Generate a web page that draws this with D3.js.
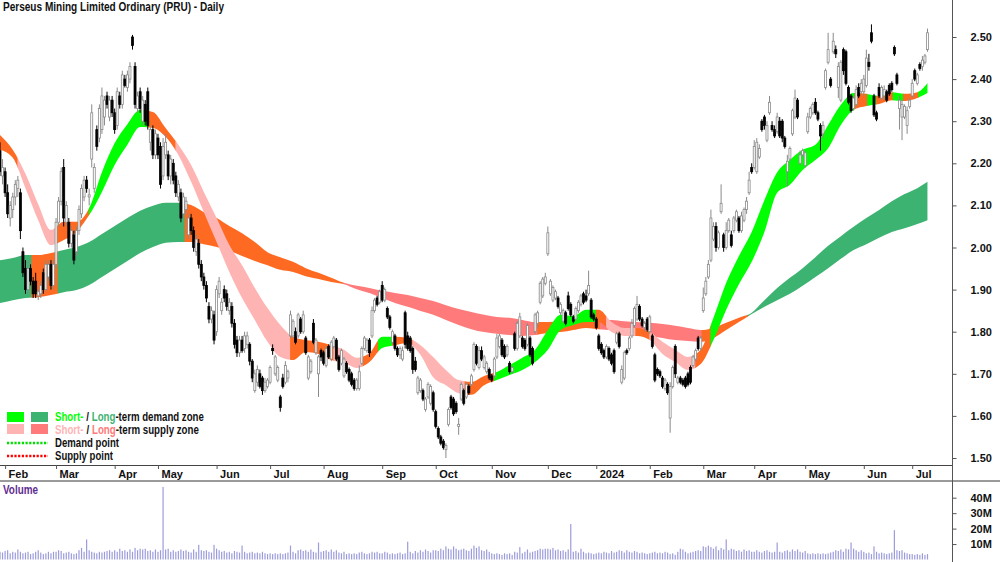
<!DOCTYPE html>
<html>
<head>
<meta charset="utf-8">
<script src="https://cdn.jsdelivr.net/npm/d3@7"></script>
<style>
  html, body { margin: 0; padding: 0; background: #fff; }
  svg { display: block; font-family: "Liberation Sans", Arial, sans-serif; }
</style>
</head>
<body>
<svg id="chart" width="1000" height="562"></svg>
<script>
// ASX trading calendar shown on the chart
const firstDay = "2023-01-30";
const lastDay = "2024-07-09";
const holidays = ["2023-04-07", "2023-04-10", "2023-04-25", "2023-06-12", "2023-12-25", "2023-12-26",
  "2024-01-01", "2024-01-26", "2024-03-29", "2024-04-01", "2024-04-25", "2024-06-10"];

const priceTicks = [1.5, 1.6, 1.7, 1.8, 1.9, 2.0, 2.1, 2.2, 2.3, 2.4, 2.5];
const volumeTicks = [10, 20, 30, 40];

// daily candles: [open, high, low, close]
const ohlc = [
  // Jan 30 - Feb 2023
  [2.23,2.25,2.17,2.18],[2.17,2.21,2.15,2.19],[2.18,2.19,2.12,2.13],[2.13,2.15,2.07,2.08],[2.07,2.11,2.05,2.10],
  [2.09,2.13,2.07,2.12],[2.12,2.16,2.10,2.15],[2.14,2.17,2.12,2.16],[2.13,2.14,2.02,2.04],[1.99,2.00,1.93,1.94],
  [1.95,1.97,1.89,1.90],[1.90,1.97,1.89,1.95],[1.95,1.96,1.91,1.92],[1.92,1.93,1.88,1.89],[1.92,1.94,1.88,1.89],
  [1.885,1.90,1.875,1.895],[1.89,1.92,1.88,1.91],[1.94,1.95,1.89,1.90],[1.90,1.97,1.895,1.96],[1.93,1.97,1.92,1.96],
  [1.96,1.97,1.90,1.91],[1.91,1.97,1.90,1.96],
  // Mar 2023
  [1.96,2.07,1.95,2.06],[2.06,2.12,2.05,2.11],[2.11,2.19,2.10,2.18],[2.19,2.21,2.05,2.07],[2.06,2.11,2.05,2.10],
  [2.06,2.07,2.00,2.01],[2.01,2.05,2.00,2.04],[2.03,2.04,1.96,1.97],[1.99,2.05,1.98,2.04],[2.04,2.10,2.03,2.09],
  [2.08,2.15,2.07,2.14],[2.12,2.17,2.11,2.16],[2.16,2.17,2.13,2.14],[2.12,2.14,2.10,2.125],[2.21,2.34,2.19,2.32],
  [2.14,2.20,2.13,2.19],[2.28,2.29,2.23,2.24],[2.26,2.34,2.25,2.33],[2.28,2.38,2.27,2.36],[2.31,2.36,2.29,2.35],
  [2.36,2.37,2.33,2.34],[2.31,2.36,2.30,2.35],[2.35,2.36,2.31,2.32],
  // Apr 2023
  [2.32,2.33,2.27,2.28],[2.29,2.38,2.28,2.37],[2.36,2.37,2.33,2.34],[2.34,2.42,2.33,2.41],[2.40,2.41,2.38,2.385],
  [2.38,2.42,2.37,2.41],[2.40,2.44,2.39,2.43],[2.50,2.505,2.47,2.48],[2.43,2.44,2.33,2.34],[2.33,2.37,2.32,2.36],
  [2.37,2.38,2.32,2.33],[2.30,2.36,2.29,2.35],[2.34,2.35,2.29,2.30],[2.37,2.38,2.28,2.29],[2.25,2.29,2.23,2.28],
  [2.28,2.29,2.21,2.22],[2.22,2.28,2.21,2.27],
  // May 2023
  [2.26,2.27,2.21,2.22],[2.24,2.25,2.14,2.15],[2.17,2.26,2.16,2.24],[2.22,2.27,2.21,2.25],[2.22,2.23,2.16,2.17],
  [2.17,2.22,2.15,2.21],[2.20,2.21,2.15,2.16],[2.17,2.18,2.12,2.13],[2.12,2.16,2.11,2.15],[2.13,2.14,2.06,2.07],
  [2.08,2.13,2.07,2.12],[2.09,2.12,2.08,2.11],[2.03,2.08,2.02,2.07],[2.07,2.08,2.03,2.04],[2.04,2.05,1.99,2.00],
  [1.99,2.03,1.98,2.02],[2.01,2.02,1.95,1.96],[1.96,1.97,1.92,1.93],[1.93,1.94,1.90,1.91],[1.91,1.92,1.87,1.88],
  [1.86,1.87,1.82,1.83],[1.83,1.86,1.82,1.85],[1.84,1.85,1.77,1.78],
  // Jun 2023
  [1.80,1.91,1.79,1.90],[1.89,1.93,1.88,1.92],[1.85,1.88,1.84,1.87],[1.90,1.91,1.87,1.88],[1.89,1.90,1.85,1.86],
  [1.85,1.88,1.84,1.87],[1.86,1.87,1.81,1.82],[1.82,1.83,1.76,1.77],[1.78,1.79,1.74,1.75],[1.75,1.79,1.74,1.78],
  [1.78,1.79,1.75,1.755],[1.76,1.80,1.75,1.79],[1.77,1.80,1.76,1.79],[1.77,1.775,1.72,1.73],[1.73,1.735,1.68,1.69],
  [1.66,1.71,1.655,1.70],[1.68,1.72,1.67,1.71],[1.70,1.71,1.665,1.67],[1.69,1.695,1.65,1.66],[1.66,1.69,1.655,1.68],
  [1.67,1.69,1.665,1.685],
  // Jul 2023
  [1.68,1.72,1.675,1.715],[1.76,1.77,1.745,1.755],[1.70,1.745,1.695,1.74],[1.685,1.72,1.68,1.715],[1.645,1.65,1.61,1.62],
  [1.69,1.70,1.665,1.67],[1.68,1.73,1.675,1.72],[1.69,1.71,1.68,1.705],[1.79,1.85,1.785,1.84],[1.79,1.83,1.785,1.825],
  [1.80,1.81,1.77,1.775],[1.79,1.845,1.785,1.84],[1.83,1.835,1.795,1.80],[1.80,1.85,1.795,1.84],[1.785,1.79,1.745,1.75],
  [1.69,1.745,1.685,1.74],[1.705,1.735,1.70,1.73],[1.82,1.83,1.77,1.775],[1.75,1.785,1.745,1.78],[1.70,1.745,1.645,1.74],
  [1.755,1.76,1.73,1.74],
  // Aug 2023
  [1.75,1.755,1.72,1.725],[1.72,1.765,1.715,1.76],[1.765,1.77,1.735,1.74],[1.735,1.78,1.73,1.775],[1.765,1.79,1.76,1.785],
  [1.78,1.785,1.73,1.735],[1.74,1.745,1.705,1.71],[1.725,1.76,1.72,1.755],[1.695,1.74,1.69,1.735],[1.725,1.73,1.70,1.705],
  [1.71,1.715,1.68,1.685],[1.70,1.705,1.67,1.675],[1.685,1.69,1.66,1.665],[1.665,1.69,1.66,1.685],[1.665,1.72,1.66,1.705],
  [1.725,1.765,1.72,1.76],[1.76,1.79,1.755,1.785],[1.755,1.785,1.75,1.78],[1.78,1.785,1.74,1.75],[1.79,1.86,1.785,1.85],
  [1.85,1.88,1.845,1.875],[1.88,1.885,1.86,1.865],[1.87,1.90,1.865,1.895],
  // Sep 2023
  [1.91,1.92,1.87,1.875],[1.875,1.905,1.87,1.90],[1.855,1.86,1.83,1.835],[1.835,1.84,1.805,1.81],[1.775,1.805,1.77,1.80],
  [1.79,1.795,1.755,1.76],[1.76,1.765,1.74,1.745],[1.745,1.765,1.735,1.76],[1.735,1.765,1.73,1.755],[1.845,1.85,1.76,1.77],
  [1.79,1.80,1.755,1.76],[1.785,1.79,1.75,1.755],[1.76,1.765,1.70,1.71],[1.73,1.74,1.705,1.71],[1.655,1.695,1.65,1.69],
  [1.66,1.69,1.655,1.685],[1.66,1.665,1.635,1.64],[1.615,1.645,1.61,1.64],[1.645,1.68,1.64,1.675],[1.63,1.675,1.625,1.67],
  [1.655,1.66,1.61,1.615],
  // Oct 2023
  [1.61,1.615,1.57,1.575],[1.57,1.575,1.545,1.55],[1.55,1.555,1.53,1.535],[1.54,1.545,1.52,1.525],[1.52,1.535,1.50,1.53],
  [1.58,1.62,1.575,1.615],[1.645,1.65,1.615,1.62],[1.64,1.645,1.60,1.605],[1.63,1.635,1.605,1.61],[1.575,1.595,1.555,1.58],
  [1.64,1.68,1.635,1.675],[1.66,1.665,1.625,1.63],[1.645,1.68,1.64,1.675],[1.67,1.675,1.65,1.655],[1.675,1.70,1.67,1.695],
  [1.71,1.775,1.705,1.77],[1.765,1.77,1.72,1.725],[1.715,1.765,1.71,1.755],[1.755,1.765,1.73,1.735],[1.715,1.745,1.71,1.74],
  [1.705,1.73,1.70,1.725],[1.71,1.715,1.685,1.69],
  // Nov 2023
  [1.695,1.70,1.68,1.685],[1.695,1.74,1.69,1.735],[1.74,1.795,1.735,1.785],[1.765,1.795,1.76,1.79],[1.78,1.785,1.74,1.745],
  [1.765,1.77,1.735,1.74],[1.745,1.77,1.74,1.765],[1.725,1.73,1.70,1.705],[1.705,1.72,1.70,1.715],[1.795,1.80,1.755,1.76],
  [1.76,1.825,1.755,1.82],[1.79,1.845,1.785,1.835],[1.785,1.79,1.76,1.765],[1.78,1.785,1.755,1.76],[1.77,1.82,1.765,1.815],
  [1.785,1.79,1.74,1.745],[1.76,1.765,1.72,1.725],[1.80,1.845,1.795,1.84],[1.82,1.85,1.81,1.845],[1.87,1.92,1.865,1.915],
  [1.885,1.93,1.88,1.925],[1.915,1.94,1.91,1.93],
  // Dec 2023
  [1.985,2.05,1.98,2.035],[1.89,1.925,1.885,1.92],[1.875,1.91,1.87,1.905],[1.88,1.90,1.875,1.895],[1.88,1.885,1.855,1.86],
  [1.845,1.87,1.84,1.865],[1.825,1.855,1.82,1.85],[1.845,1.85,1.815,1.82],[1.885,1.895,1.85,1.855],[1.865,1.87,1.835,1.84],
  [1.835,1.84,1.82,1.825],[1.83,1.86,1.825,1.855],[1.85,1.875,1.845,1.87],[1.865,1.89,1.86,1.885],[1.89,1.895,1.865,1.87],
  [1.885,1.90,1.87,1.875],[1.89,1.945,1.885,1.91],[1.875,1.88,1.83,1.835],[1.84,1.845,1.825,1.83],
  // Jan 2024
  [1.83,1.835,1.805,1.81],[1.79,1.795,1.755,1.76],[1.77,1.775,1.745,1.75],[1.755,1.76,1.735,1.74],[1.74,1.77,1.735,1.765],
  [1.76,1.765,1.73,1.735],[1.745,1.75,1.72,1.725],[1.755,1.76,1.70,1.705],[1.775,1.80,1.77,1.795],[1.795,1.80,1.76,1.765],
  [1.68,1.72,1.675,1.71],[1.69,1.755,1.685,1.75],[1.755,1.76,1.745,1.75],[1.76,1.79,1.755,1.785],[1.79,1.83,1.785,1.82],
  [1.815,1.86,1.81,1.855],[1.83,1.885,1.825,1.865],[1.86,1.865,1.825,1.83],[1.83,1.835,1.81,1.815],[1.81,1.825,1.80,1.82],
  [1.83,1.835,1.80,1.805],
  // Feb 2024
  [1.80,1.84,1.795,1.835],[1.79,1.795,1.76,1.765],[1.745,1.75,1.68,1.685],[1.71,1.715,1.695,1.70],[1.705,1.71,1.69,1.695],
  [1.69,1.695,1.665,1.67],[1.665,1.69,1.66,1.685],[1.675,1.68,1.65,1.655],[1.595,1.68,1.56,1.67],[1.67,1.72,1.665,1.715],
  [1.765,1.77,1.69,1.70],[1.68,1.695,1.675,1.69],[1.69,1.695,1.675,1.68],[1.685,1.69,1.67,1.675],[1.69,1.695,1.665,1.67],
  [1.70,1.705,1.67,1.675],[1.715,1.72,1.675,1.68],[1.72,1.745,1.715,1.74],[1.735,1.76,1.73,1.755],[1.785,1.79,1.755,1.76],
  [1.76,1.79,1.755,1.785],
  // Mar 2024
  [1.85,1.905,1.845,1.88],[1.89,1.93,1.885,1.92],[1.93,1.97,1.925,1.96],[1.97,2.09,1.965,2.07],[2.02,2.06,2.015,2.05],
  [2.05,2.06,1.99,2.00],[2.00,2.04,1.995,2.035],[2.085,2.15,2.08,2.105],[2.03,2.035,1.99,2.00],[2.00,2.06,1.995,2.04],
  [2.04,2.07,2.035,2.065],[2.03,2.04,2.00,2.005],[2.04,2.075,2.035,2.07],[2.065,2.09,2.06,2.085],[2.07,2.075,2.035,2.04],
  [2.04,2.085,2.035,2.075],[2.065,2.095,2.06,2.09],[2.09,2.12,2.08,2.11],[2.13,2.18,2.125,2.16],[2.19,2.20,2.175,2.18],
  // Apr 2024
  [2.19,2.255,2.185,2.24],[2.18,2.26,2.175,2.25],[2.215,2.245,2.21,2.235],[2.30,2.305,2.275,2.28],[2.31,2.315,2.28,2.29],
  [2.255,2.30,2.25,2.29],[2.32,2.36,2.315,2.345],[2.29,2.30,2.275,2.28],[2.28,2.29,2.26,2.265],[2.275,2.32,2.27,2.31],
  [2.30,2.31,2.26,2.265],[2.30,2.305,2.25,2.26],[2.26,2.265,2.235,2.24],[2.18,2.22,2.145,2.205],[2.21,2.24,2.205,2.235],
  [2.27,2.33,2.265,2.325],[2.31,2.375,2.305,2.355],[2.35,2.355,2.305,2.31],[2.20,2.23,2.195,2.22],[2.22,2.235,2.215,2.23],
  // May 2024
  [2.195,2.23,2.19,2.225],[2.275,2.32,2.27,2.31],[2.31,2.335,2.305,2.33],[2.32,2.345,2.315,2.34],[2.345,2.355,2.315,2.32],
  [2.32,2.325,2.30,2.305],[2.29,2.295,2.23,2.265],[2.27,2.30,2.26,2.29],[2.38,2.425,2.375,2.42],[2.44,2.51,2.435,2.47],
  [2.40,2.405,2.38,2.385],[2.465,2.51,2.46,2.49],[2.47,2.48,2.45,2.46],[2.38,2.44,2.355,2.43],[2.35,2.445,2.345,2.44],
  [2.47,2.475,2.41,2.42],[2.465,2.47,2.385,2.39],[2.38,2.385,2.34,2.345],[2.36,2.365,2.32,2.325],[2.33,2.36,2.325,2.355],
  [2.34,2.385,2.335,2.375],[2.38,2.39,2.355,2.36],[2.37,2.40,2.365,2.39],
  // Jun 2024
  [2.37,2.41,2.36,2.40],[2.385,2.47,2.38,2.45],[2.44,2.46,2.42,2.43],[2.51,2.53,2.485,2.49],[2.36,2.365,2.31,2.315],
  [2.32,2.325,2.30,2.305],[2.38,2.39,2.355,2.36],[2.355,2.385,2.35,2.38],[2.36,2.385,2.35,2.375],[2.37,2.375,2.345,2.35],
  [2.385,2.39,2.36,2.365],[2.39,2.395,2.37,2.375],[2.475,2.48,2.455,2.46],[2.41,2.415,2.385,2.39],[2.33,2.36,2.28,2.35],
  [2.31,2.35,2.255,2.34],[2.31,2.34,2.305,2.335],[2.29,2.335,2.27,2.325],[2.335,2.355,2.33,2.35],
  // Jul 2024
  [2.36,2.40,2.355,2.39],[2.42,2.425,2.395,2.40],[2.39,2.415,2.385,2.41],[2.435,2.44,2.42,2.425],[2.43,2.455,2.42,2.445],
  [2.44,2.46,2.435,2.455],[2.47,2.52,2.465,2.51]
];

// daily volume, millions of shares
const volume = [
  5,4.5,5.5,6,4,5,4.5,6.5,5,4,4.5,5,3.5,4,5,6,4.5,3.5,4,5,4,5,
  5,6,5.5,4,4.5,5,4,3.5,4,6,7.5,5,13,6,5,4.5,4,5,4.5,5,5.5,6,5,
  6,5,7,5.5,6,5,6.5,5,7.5,6,7,6.5,7,5.5,6,5,6.5,
  5,6,47,6.5,7,5,6,5,5.5,6.5,5.5,6,5,4.5,6.5,5,9.5,6,5.5,6,5,4.5,9.5,
  7,6,5,5.5,4.5,5,4,5.5,5,4.5,9,5,4,4.5,5,4,4.5,4,5,4,3.5,
  4,3.5,4,3.5,4,3.5,4,4.5,9,5,4,6,6.5,5.5,6,5,6.5,5,4.5,11,5,
  5.5,6,5,6.5,5,6,4.5,4,5,3.5,4,3.5,4,3.5,4.5,5,4,3.5,4,5,4.5,5,4,
  4,5,4.5,3.5,4,3.5,4,4.5,3.5,4,11.5,5,4,5.5,4.5,6,5,6.5,5.5,4.5,6,
  6,5.5,7,6,8.5,7,6.5,8.5,7,6,6.5,7,6,5.5,7,9,7.5,8.5,6,5.5,6.5,5,
  4,3.5,4,3.5,3,4,3.5,4,3,5,4.5,8,4,5,6.5,4.5,5,5.5,6,7,6.5,7,
  7,6.5,7.5,6,6.5,5.5,6,5,6.5,23,5,5.5,4.5,7,5,4,4.5,4,3.5,
  4,4.5,4,5,4.5,4,5.5,4.5,5,6,5.5,4.5,6,5,4.5,5.5,5,4,4.5,4,3.5,
  4,4.5,5,4,4.5,4,5,4.5,3.5,4,3,5,7,6.5,5,4,4.5,5,5.5,6,5.5,
  8.5,8,9,8,7,8.5,6,7.5,6.5,13,6,7,6.5,5.5,6,5,6.5,5.5,6,5,
  5,6,5,4.5,5.5,6,5,4.5,5,11,5,4.5,5.5,6,5,6.5,5.5,6.5,5,4.5,
  5.5,4,3.5,4,3.5,4,3.5,4,3.5,4,4.5,5,6,5.5,6.5,5,7,6.5,11,7,6,5,6,
  5,4,4.5,3.5,8.5,5,4,4.5,4,3.5,4,4.5,19,6,5.5,6,4.5,4,3.5,
  3.5,3,3.5,3,4,3,3.5
];

// trend bands, sampled every 5 trading days (index into the calendar)
const bandIdx = [0,5,10,15,20,25,30,35,40,45,50,55,60,65,70,75,80,85,90,95,100,105,110,115,120,125,130,135,140,145,
  150,155,160,165,170,175,180,185,190,195,200,205,210,215,220,225,230,235,240,245,250,255,260,265,270,275,280,285,290,295,
  300,305,310,315,320,325,330,335,340,345,350,355,360,364];
const stUpper = [2.267,2.232,2.175,2.103,2.042,2.061,2.061,2.094,2.179,2.248,2.293,2.327,2.322,2.284,2.244,2.196,2.132,2.070,2.006,1.958,
  1.904,1.856,1.816,1.788,1.780,1.776,1.768,1.757,1.738,1.749,1.788,1.788,1.785,1.768,1.740,1.709,1.685,1.681,1.695,1.704,
  1.721,1.738,1.757,1.804,1.840,1.837,1.852,1.852,1.823,1.809,1.809,1.799,1.776,1.757,1.740,1.757,1.833,1.916,1.980,2.037,
  2.113,2.179,2.208,2.232,2.244,2.291,2.339,2.367,2.365,2.360,2.369,2.365,2.369,2.391];
const stLower = [2.232,2.213,2.141,2.065,2.006,2.018,2.037,2.077,2.132,2.196,2.244,2.286,2.284,2.263,2.220,2.156,2.084,2.013,1.942,1.880,
  1.828,1.776,1.740,1.733,1.752,1.747,1.733,1.726,1.714,1.728,1.761,1.768,1.773,1.745,1.692,1.673,1.654,1.650,1.673,1.685,
  1.697,1.709,1.728,1.757,1.804,1.816,1.823,1.823,1.799,1.790,1.790,1.780,1.747,1.728,1.709,1.723,1.780,1.852,1.913,1.966,
  2.037,2.130,2.149,2.184,2.208,2.236,2.291,2.327,2.336,2.341,2.350,2.348,2.355,2.367];
const ltUpper = [1.970,1.975,1.982,1.982,1.987,1.994,2.001,2.013,2.032,2.051,2.070,2.087,2.099,2.106,2.106,2.101,2.084,2.070,2.051,2.034,
  2.013,1.989,1.977,1.966,1.951,1.940,1.928,1.916,1.909,1.904,1.897,1.892,1.887,1.880,1.873,1.863,1.854,1.847,1.840,1.835,
  1.833,1.828,1.823,1.823,1.825,1.828,1.828,1.828,1.828,1.825,1.823,1.821,1.818,1.814,1.809,1.804,1.809,1.821,1.833,1.845,
  1.875,1.904,1.928,1.951,1.977,2.004,2.027,2.049,2.070,2.089,2.110,2.127,2.141,2.156];
const ltLower = [1.868,1.875,1.880,1.882,1.887,1.894,1.899,1.911,1.930,1.949,1.968,1.987,2.001,2.011,2.013,2.013,2.008,2.001,1.992,1.980,
  1.968,1.958,1.947,1.942,1.932,1.925,1.918,1.913,1.901,1.892,1.880,1.868,1.859,1.849,1.840,1.828,1.816,1.806,1.799,1.795,
  1.792,1.790,1.792,1.797,1.799,1.804,1.809,1.806,1.804,1.802,1.797,1.790,1.785,1.780,1.778,1.776,1.785,1.804,1.823,1.842,
  1.859,1.875,1.890,1.909,1.930,1.951,1.973,1.994,2.008,2.023,2.037,2.046,2.056,2.065];

// zone state over index ranges: demand / supply / mixed
const stZones = [[0,7,"mixed"],[7,22,"supply"],[22,35,"mixed"],[35,58,"demand"],[58,69,"mixed"],[69,114,"supply"],
  [114,131,"mixed"],[131,142.5,"supply"],[142.5,148.5,"mixed"],[148.5,154,"demand"],[154,162,"mixed"],[162,182.5,"supply"],
  [182.5,194,"mixed"],[194,234,"demand"],[234,238,"mixed"],[238,249.5,"supply"],[249.5,255,"mixed"],[255,273,"supply"],
  [273,279,"mixed"],[279,335.5,"demand"],[335.5,340.5,"mixed"],[340.5,344,"demand"],[344,350.5,"mixed"],[350.5,354.5,"demand"],
  [354.5,360.5,"mixed"],[360.5,364,"demand"]];
const ltZones = [[0,12.5,"demand"],[12.5,22.8,"mixed"],[22.8,72.6,"demand"],[72.6,134.6,"mixed"],[134.6,211,"supply"],
  [211,235.5,"mixed"],[235.5,275.5,"supply"],[275.5,293.5,"mixed"],[293.5,364,"demand"]];

const stColors = { demand: "#00ff00", supply: "#ffb4b4", mixed: "#ff6a22" };
const ltColors = { demand: "#3cb371", supply: "#ff7a7a", mixed: "#ff6a22" };

// ---- calendar ----
const parse = d3.timeParse("%Y-%m-%d");
const fmt = d3.timeFormat("%Y-%m-%d");
const dates = d3.timeDay.range(parse(firstDay), d3.timeDay.offset(parse(lastDay), 1))
  .filter(d => d.getDay() !== 0 && d.getDay() !== 6 && !holidays.includes(fmt(d)));

const monthStarts = [];
dates.forEach((d, i) => {
  if (i > 0 && d.getMonth() !== dates[i - 1].getMonth()) monthStarts.push(i);
});

// ---- layout ----
const AXIS_X = 952;
const PRICE_BOTTOM = 465;
const VOL_TOP = 481;

const svg = d3.select("#chart");

const x = d3.scaleLinear().domain([0, 364]).range([0, 927.5]);
const y = d3.scaleLinear().domain([1.5, 2.5]).range([458, 37]);
const yv = d3.scaleLinear().domain([0, 40]).range([559.5, 497.7]);

const defs = svg.append("defs");
defs.append("clipPath").attr("id", "pricePanel")
  .append("rect").attr("x", 0).attr("y", 0).attr("width", AXIS_X).attr("height", PRICE_BOTTOM);

const gPrice = svg.append("g").attr("clip-path", "url(#pricePanel)");

// ---- bands ----
const band = d3.area()
  .x(d => x(d.i))
  .y0(d => y(d.lo))
  .y1(d => y(d.hi))
  .curve(d3.curveMonotoneX);

const ltData = bandIdx.map((i, k) => ({ i, hi: ltUpper[k], lo: ltLower[k] }));
const stData = bandIdx.map((i, k) => ({ i, hi: stUpper[k], lo: stLower[k] }));

function drawZones(data, zones, colors, name) {
  zones.forEach((z, k) => {
    const id = `${name}-${k}`;
    defs.append("clipPath").attr("id", id)
      .append("rect")
      .attr("x", x(z[0]) - 0.4)
      .attr("width", x(z[1]) - x(z[0]) + 0.8)
      .attr("y", 0).attr("height", PRICE_BOTTOM);
    gPrice.append("path")
      .attr("d", band(data))
      .attr("fill", colors[z[2]])
      .attr("clip-path", `url(#${id})`);
  });
}
drawZones(ltData, ltZones, ltColors, "lt");
drawZones(stData, stZones, stColors, "st");

// ---- candles ----
const candles = gPrice.append("g").selectAll("g")
  .data(ohlc)
  .join("g");

candles.append("line")
  .attr("x1", (d, i) => x(i)).attr("x2", (d, i) => x(i))
  .attr("y1", d => y(d[1])).attr("y2", d => y(d[2]))
  .attr("stroke", d => d[3] >= d[0] ? "#8a8a8a" : "#000")
  .attr("stroke-width", 1);

candles.append("rect")
  .attr("x", (d, i) => x(i) - 1)
  .attr("width", 2)
  .attr("y", d => y(Math.max(d[0], d[3])))
  .attr("height", d => Math.max(1, Math.abs(y(d[0]) - y(d[3]))))
  .attr("fill", d => d[3] >= d[0] ? "#fff" : "#000")
  .attr("stroke", d => d[3] >= d[0] ? "#8a8a8a" : "#000")
  .attr("stroke-width", 0.8);

// ---- volume ----
svg.append("g").selectAll("rect")
  .data(volume)
  .join("rect")
  .attr("x", (d, i) => x(i) - 0.6)
  .attr("width", 1.2)
  .attr("y", d => yv(d))
  .attr("height", d => yv(0) - yv(d))
  .attr("fill", "#9c9cdc");

// ---- frame lines ----
svg.append("line").attr("x1", 0).attr("x2", AXIS_X).attr("y1", PRICE_BOTTOM + 0.5).attr("y2", PRICE_BOTTOM + 0.5)
  .attr("stroke", "#444");
svg.append("line").attr("x1", 0).attr("x2", 1000).attr("y1", VOL_TOP).attr("y2", VOL_TOP)
  .attr("stroke", "#9a9a9a").attr("stroke-width", 2);
svg.append("line").attr("x1", AXIS_X + 0.5).attr("x2", AXIS_X + 0.5).attr("y1", 0).attr("y2", 562)
  .attr("stroke", "#555");

// ---- axes ----
const yAxis = d3.axisRight(y).tickValues(priceTicks).tickFormat(d3.format(".2f")).tickSize(4).tickPadding(14);
const gy = svg.append("g").attr("transform", `translate(${AXIS_X + 0.5},0)`).call(yAxis);

const vAxis = d3.axisRight(yv).tickValues(volumeTicks).tickFormat(d => d + "M").tickSize(4).tickPadding(14);
const gv = svg.append("g").attr("transform", `translate(${AXIS_X + 0.5},0)`).call(vAxis);

const monthFmt = d3.timeFormat("%b");
const xAxis = d3.axisBottom(x).tickValues(monthStarts)
  .tickFormat(i => dates[i].getMonth() === 0 ? String(dates[i].getFullYear()) : monthFmt(dates[i]))
  .tickSize(4);
const gx = svg.append("g").attr("transform", `translate(0,${PRICE_BOTTOM})`).call(xAxis);
gx.selectAll("text").attr("text-anchor", "start").attr("x", 3).attr("y", 5);

[gy, gv, gx].forEach(g => {
  g.select(".domain").remove();
  g.selectAll(".tick line").attr("stroke", "#555");
  g.selectAll("text").attr("font-family", "'Liberation Sans', Arial, sans-serif")
    .attr("font-size", 11).attr("font-weight", "bold").attr("fill", "#111");
});

// ---- title & labels (narrow bold face, squeezed to the reference widths) ----
svg.append("text").attr("x", 3).attr("y", 11)
  .attr("font-size", 12).attr("font-weight", "bold").attr("fill", "#111")
  .attr("textLength", 221).attr("lengthAdjust", "spacingAndGlyphs")
  .text("Perseus Mining Limited Ordinary (PRU) - Daily");

svg.append("text").attr("x", 3).attr("y", 494)
  .attr("font-size", 12).attr("font-weight", "bold").attr("fill", "#5f2d91")
  .attr("textLength", 35).attr("lengthAdjust", "spacingAndGlyphs")
  .text("Volume");

// ---- legend ----
const legend = svg.append("g");
legend.append("rect").attr("x", 7).attr("y", 412).attr("width", 17).attr("height", 10).attr("fill", stColors.demand);
legend.append("rect").attr("x", 31).attr("y", 412).attr("width", 17).attr("height", 10).attr("fill", ltColors.demand);
legend.append("rect").attr("x", 7).attr("y", 424).attr("width", 17).attr("height", 10).attr("fill", stColors.supply);
legend.append("rect").attr("x", 31).attr("y", 424).attr("width", 17).attr("height", 10).attr("fill", ltColors.supply);
legend.append("line").attr("x1", 7).attr("x2", 48).attr("y1", 443).attr("y2", 443)
  .attr("stroke", "#00dd00").attr("stroke-width", 2.5).attr("stroke-dasharray", "2.2,1.5");
legend.append("line").attr("x1", 7).attr("x2", 48).attr("y1", 456).attr("y2", 456)
  .attr("stroke", "#ff0000").attr("stroke-width", 2.5).attr("stroke-dasharray", "2.2,1.5");

// each coloured word is its own text laid end to end; the row is squeezed horizontally to the reference width
const legendRows = [
  { y: 421, w: 149, parts: [["Short-", stColors.demand], ["/", "#111"], ["Long", ltColors.demand], ["-term demand zone", "#111"]] },
  { y: 434, w: 144, parts: [["Short-", stColors.supply], ["/", "#111"], ["Long", ltColors.supply], ["-term supply zone", "#111"]] },
  { y: 447, w: 64, parts: [["Demand point", "#111"]] },
  { y: 460, w: 58, parts: [["Supply point", "#111"]] }
];
legendRows.forEach(r => {
  const row = legend.append("g");
  const texts = r.parts.map(p => row.append("text")
    .attr("y", r.y).attr("font-size", 12).attr("font-weight", "bold")
    .attr("fill", p[1]).text(p[0]));
  const widths = texts.map(t => t.node().getComputedTextLength());
  const gaps = r.parts.length > 1 ? [0, 3.5, 3.5, 0] : [0];
  let cx = 0;
  texts.forEach((t, j) => {
    cx += gaps[j];
    t.attr("x", cx);
    cx += widths[j];
  });
  row.attr("transform", `translate(55,0) scale(${r.w / cx},1)`);
});
</script>
</body>
</html>
